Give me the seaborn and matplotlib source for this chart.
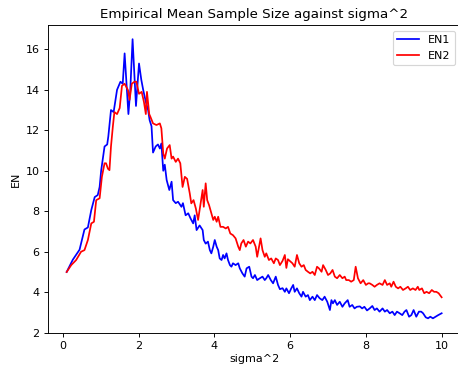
import matplotlib
matplotlib.use("Agg")
import matplotlib.pyplot as plt
import seaborn as sns

# EN1 (blue)
x_en1 = [0.10, 0.26, 0.44, 0.57, 0.66, 0.75, 0.84, 0.92, 0.97, 1.01,
         1.10, 1.17, 1.20, 1.27, 1.34, 1.43, 1.52, 1.58, 1.63, 1.73,
         1.78, 1.84, 1.93, 2.01, 2.07, 2.12, 2.19, 2.25, 2.29, 2.34,
         2.38, 2.45, 2.51, 2.56, 2.60, 2.65, 2.69, 2.74, 2.81, 2.87,
         2.91, 2.98, 3.04, 3.13, 3.17, 3.24, 3.31, 3.37, 3.44, 3.48,
         3.53, 3.61, 3.69, 3.72, 3.77, 3.83, 3.88, 3.92, 3.97, 4.01,
         4.06, 4.10, 4.14, 4.19, 4.23, 4.27, 4.32, 4.36, 4.41, 4.45,
         4.49, 4.56, 4.63, 4.67, 4.74, 4.80, 4.85, 4.92, 4.98, 5.02,
         5.07, 5.13, 5.20, 5.27, 5.33, 5.37, 5.42, 5.49, 5.55, 5.62,
         5.68, 5.73, 5.80, 5.86, 5.90, 5.97, 6.03, 6.08, 6.12, 6.18,
         6.24, 6.30, 6.34, 6.41, 6.47, 6.52, 6.59, 6.65, 6.71, 6.78,
         6.85, 6.91, 6.98, 7.05, 7.09, 7.13, 7.18, 7.24, 7.31, 7.38,
         7.44, 7.52, 7.57, 7.64, 7.70, 7.76, 7.84, 7.90, 7.96, 8.03,
         8.10, 8.17, 8.23, 8.29, 8.36, 8.44, 8.50, 8.56, 8.63, 8.70,
         8.76, 8.82, 8.89, 8.96, 9.02, 9.07, 9.14, 9.20, 9.26, 9.33,
         9.40, 9.46, 9.51, 9.58, 9.64, 9.70, 9.77, 9.84, 9.91, 10.0]
en1 = [5.0, 5.6, 6.1, 7.1, 7.2, 8.06, 8.7, 8.8, 9.2, 10.0,
       11.2, 11.3, 11.7, 13.0, 12.9, 14.0, 14.4, 14.3, 15.8, 12.8,
       14.0, 16.5, 13.2, 15.3, 14.5, 14.0, 13.4, 13.0, 12.5, 12.2,
       10.9, 11.2, 11.3, 11.1, 11.35, 10.0, 10.3, 9.54, 9.05, 9.46,
       8.55, 8.4, 8.47, 8.22, 8.4, 7.8, 7.9, 7.65, 7.4, 7.8,
       7.07, 7.3, 7.07, 6.58, 6.4, 6.5, 6.08, 5.92, 6.25, 6.58,
       6.25, 6.08, 5.67, 5.59, 5.84, 5.67, 5.92, 5.59, 5.34, 5.26,
       5.43, 5.34, 5.43, 5.18, 4.93, 4.77, 5.18, 5.26, 4.77, 4.69,
       4.85, 4.6, 4.69, 4.77, 4.6, 4.69, 4.85, 4.6, 4.44, 4.77,
       4.36, 4.15, 4.2, 4.02, 4.19, 3.95, 4.19, 4.36, 4.02, 4.19,
       3.95, 3.78, 4.02, 3.78, 3.86, 3.61, 3.78, 3.61, 3.86, 3.7,
       3.61, 3.78, 3.53, 3.12, 3.61, 3.45, 3.61, 3.37, 3.53, 3.28,
       3.45, 3.61, 3.28, 3.37, 3.2, 3.28, 3.3, 3.2, 3.28, 3.1,
       3.2, 3.32, 3.12, 3.2, 3.04, 3.2, 3.04, 3.12, 2.96, 3.04,
       2.87, 3.04, 2.96, 2.87, 3.04, 3.12, 2.79, 2.87, 3.12, 2.79,
       3.04, 3.04, 2.96, 2.76, 2.71, 2.79, 2.71, 2.79, 2.87, 2.96]

# EN2 (red)
x_en2 = [0.10, 0.22, 0.35, 0.48, 0.57, 0.66, 0.75, 0.82, 0.88, 0.97,
         1.03, 1.10, 1.14, 1.19, 1.23, 1.27, 1.32, 1.36, 1.43, 1.50,
         1.56, 1.63, 1.72, 1.76, 1.82, 1.89, 1.94, 2.01, 2.08, 2.14,
         2.19, 2.22, 2.28, 2.31, 2.38, 2.47, 2.56, 2.60, 2.65, 2.69,
         2.75, 2.82, 2.87, 2.91, 2.98, 3.04, 3.10, 3.16, 3.22, 3.28,
         3.35, 3.39, 3.45, 3.51, 3.57, 3.61, 3.69, 3.72, 3.77, 3.81,
         3.86, 3.92, 3.97, 4.01, 4.06, 4.10, 4.16, 4.23, 4.30, 4.36,
         4.42, 4.49, 4.56, 4.63, 4.67, 4.71, 4.77, 4.83, 4.89, 4.95,
         5.02, 5.09, 5.13, 5.18, 5.22, 5.27, 5.33, 5.37, 5.44, 5.50,
         5.57, 5.62, 5.68, 5.73, 5.80, 5.86, 5.90, 5.94, 6.01, 6.06,
         6.12, 6.18, 6.24, 6.30, 6.36, 6.41, 6.47, 6.53, 6.59, 6.65,
         6.71, 6.76, 6.83, 6.87, 6.94, 7.00, 7.06, 7.12, 7.18, 7.24,
         7.31, 7.38, 7.44, 7.48, 7.55, 7.61, 7.68, 7.73, 7.79, 7.86,
         7.93, 8.00, 8.06, 8.10, 8.17, 8.23, 8.29, 8.36, 8.44, 8.50,
         8.56, 8.63, 8.67, 8.73, 8.79, 8.85, 8.91, 8.98, 9.05, 9.11,
         9.17, 9.24, 9.31, 9.37, 9.41, 9.48, 9.54, 9.60, 9.67, 9.74,
         9.80, 9.86, 9.92, 10.0]
en2 = [5.0, 5.34, 5.59, 6.0, 6.08, 6.58, 7.4, 7.48, 8.55, 8.64,
       9.7, 10.37, 10.37, 10.1, 10.03, 11.2, 12.2, 12.9, 12.8, 13.1,
       14.2, 14.3, 13.98, 13.5, 14.3, 14.4, 14.4, 13.8, 13.9, 13.4,
       12.8, 13.9, 12.8, 12.67, 12.34, 12.26, 12.34, 12.1, 10.86, 10.6,
       11.1, 11.27, 10.6, 10.7, 10.44, 10.6, 10.37, 9.2, 9.7, 9.6,
       8.88, 8.39, 8.55, 8.14, 7.57, 8.06, 9.05, 8.22, 9.38, 8.55,
       8.3, 7.9, 7.57, 7.73, 7.48, 7.73, 7.23, 7.23, 7.15, 7.23,
       6.9, 6.82, 6.66, 6.25, 6.08, 6.41, 6.58, 6.25, 6.5, 6.41,
       6.58, 6.25, 5.75, 6.25, 6.66, 6.08, 5.75, 5.92, 5.59, 5.67,
       5.43, 5.67, 5.59, 5.34, 5.55, 5.84, 5.2, 5.63, 5.51, 5.43,
       5.26, 5.84, 5.43, 5.26, 5.34, 5.1, 5.01, 4.93, 5.01, 4.85,
       5.26, 5.18, 5.01, 5.34, 5.1, 4.85, 4.93, 5.1, 4.77, 4.69,
       4.85, 4.69, 4.77, 4.6, 4.6, 4.52, 4.6, 5.26, 4.69, 4.44,
       4.6, 4.36, 4.44, 4.44, 4.36, 4.27, 4.36, 4.44, 4.36, 4.6,
       4.36, 4.44, 4.27, 4.52, 4.27, 4.19, 4.27, 4.11, 4.19, 4.27,
       4.11, 4.19, 4.11, 4.27, 4.11, 4.19, 3.95, 4.02, 3.95, 4.11,
       4.02, 4.02, 3.95, 3.75]

# text in the reference is a touch smaller than default at this scale
plt.rcParams["font.size"] = 9.6

# reference looks like a default 6.4x4.8 figure at ~83 dpi, cropped
fig = plt.figure(figsize=(5.497, 4.417), dpi=83.33)
ax = fig.add_axes([0.1042, 0.0959, 0.9013, 0.8359])

sns.lineplot(x=x_en1, y=en1, color="blue", label="EN1", ax=ax)
sns.lineplot(x=x_en2, y=en2, color="red", label="EN2", ax=ax)

ax.set_xlim(-0.4, 10.5)
ax.set_ylim(2.0, 17.2)
ax.set_xticks([0, 2, 4, 6, 8, 10])
ax.set_yticks([2, 4, 6, 8, 10, 12, 14, 16])

ax.set_title("Empirical Mean Sample Size against sigma^2")
ax.set_xlabel("sigma^2", labelpad=2.5)
ax.set_ylabel("EN")
ax.legend(loc="upper right")

fig.savefig("out.png", dpi=83.33)
plt.close(fig)
